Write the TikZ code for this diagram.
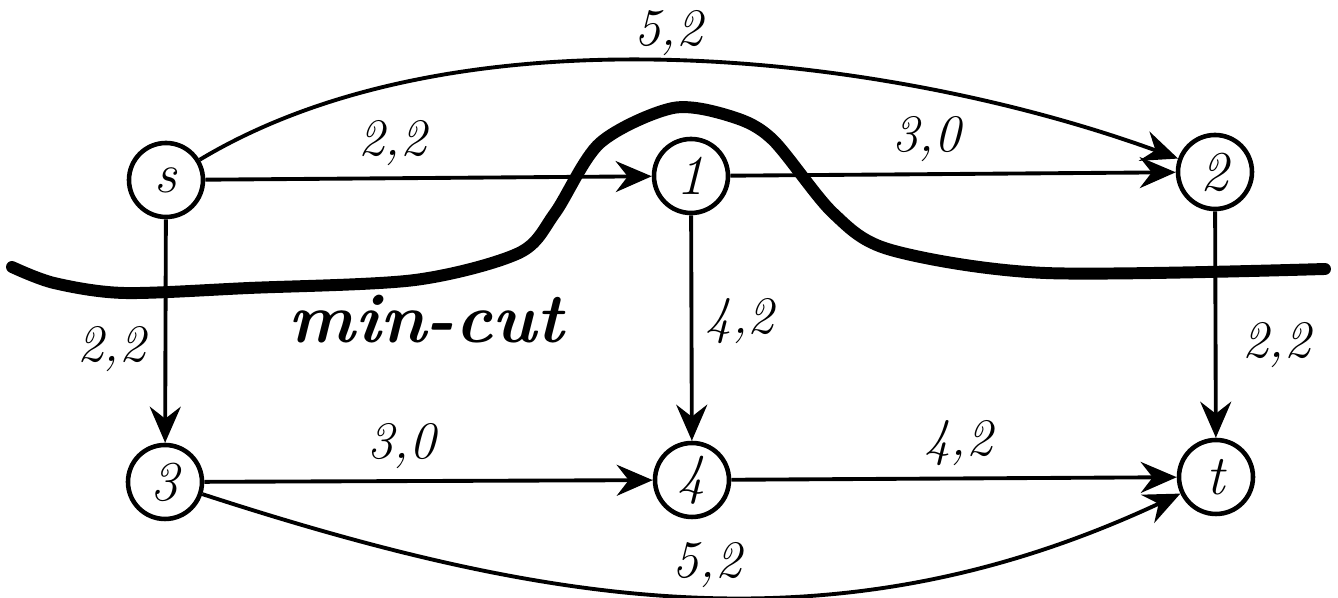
\documentclass[tikz,border=0pt]{standalone}
\usetikzlibrary{arrows.meta}
\usetikzlibrary{positioning}

\begin{document}
\begin{tikzpicture}[
                every node/.style={font=\fontsize{15}{17}\selectfont\itshape},
                vertex/.style={circle, draw=black, line width=1.3pt, inner sep=0pt,
                    minimum size=0.74cm, font=\fontsize{16}{18}\selectfont\itshape},
                arrow/.style={-{Stealth[length=3.6mm, width=3.1mm, inset=1.2mm]}, line width=1.1pt},
                flow/.style={font=\fontsize{15}{17}\selectfont\itshape, inner sep=2pt},
                cut/.style={line width=3.4pt, line cap=round},
                cutlabel/.style={font=\fontsize{20}{22}\selectfont\bfseries\itshape, anchor=base},
            ]
            \useasboundingbox (0,0) rectangle (13.38,5.98);
            
            % Nodes
            \node[vertex] (s) at (1.66,4.18) {s};
            \node[vertex] (n1) at (6.91,4.22) {1};
            \node[vertex] (n2) at (12.15,4.26) {2};
            \node[vertex] (n3) at (1.65,1.16) {3};
            \node[vertex] (n4) at (6.92,1.18) {4};
            \node[vertex] (t) at (12.16,1.21) {t};
            
            % Arrows
            \draw[arrow] (s) -- node[flow, above, pos=0.42, yshift=1pt] {2,2} (n1);
            \draw[arrow] (n1) -- node[flow, above, pos=0.44, yshift=1pt] {3,0} (n2);
            \draw[arrow] (s) -- node[flow, left, pos=0.58, xshift=-3pt] {2,2} (n3);
            \draw[arrow] (n1) -- node[flow, right, pos=0.47, xshift=1.5pt] {4,2} (n4);
            \draw[arrow] (n2) -- node[flow, right, pos=0.59, xshift=5pt] {2,2} (t);
            \draw[arrow] (n3) -- node[flow, above, pos=0.44, yshift=1pt] {3,0} (n4);
            \draw[arrow] (n4) -- node[flow, above, pos=0.51, yshift=1pt] {4,2} (t);
            \draw[arrow] (s) to[out=31, in=160, looseness=0.8]
                node[flow, above, pos=0.49, yshift=-1pt] {5,2} (n2);
            \draw[arrow] (n3) to[out=-18, in=205, looseness=0.98]
                node[flow, above, pos=0.51, yshift=0pt] {5,2} (t);
            
            % Min-cut
            \draw[cut] plot[smooth, tension=0.5] coordinates {
                (0.12,3.31) (0.54,3.15) (1.24,3.05) (2.49,3.10) (4.15,3.18)
                (5.19,3.45) (5.55,3.85) (6.00,4.55) (6.73,4.90) (7.33,4.81)
                (7.73,4.58) (8.33,3.85) (8.91,3.48) (10.45,3.25) (13.25,3.29)};
            \node[cutlabel] (mincut) at (4.26,2.55) {min-cut};
            
            \end{tikzpicture}
\end{document}
